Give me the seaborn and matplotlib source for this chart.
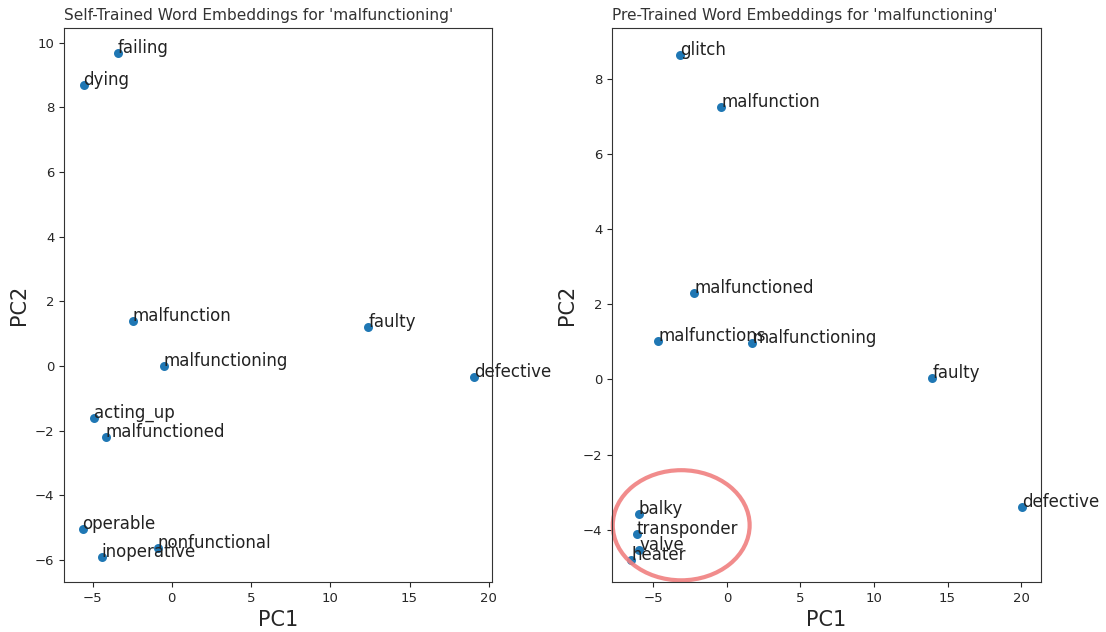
import numpy as np
import pandas as pd
import matplotlib
matplotlib.use("Agg")
import matplotlib.pyplot as plt
from matplotlib.patches import Ellipse
import seaborn as sns

# kendi eğittiğimiz gömmeler (PCA sonrası)
self_words = ['failing', 'dying', 'malfunction', 'malfunctioning', 'faulty', 'defective',
              'acting_up', 'malfunctioned', 'operable', 'nonfunctional', 'inoperative']
self_pc1 = [-3.42, -5.57, -2.47, -0.50, 12.40, 19.05, -4.94, -4.18, -5.63, -0.89, -4.43]
self_pc2 = [9.69, 8.70, 1.39, 0.00, 1.21, -0.34, -1.61, -2.20, -5.05, -5.63, -5.91]

# hazır (pre-trained) gömmeler
pre_words = ['glitch', 'malfunction', 'malfunctioned', 'malfunctions', 'malfunctioning',
             'faulty', 'defective', 'balky', 'transponder', 'valve', 'heater']
pre_pc1 = [-3.17, -0.39, -2.22, -4.67, 1.72, 13.97, 20.04, -6.00, -6.11, -5.96, -6.48]
pre_pc2 = [8.62, 7.26, 2.31, 1.01, 0.98, 0.05, -3.40, -3.59, -4.10, -4.55, -4.81]

sns.set_style("ticks")
plt.rcParams['font.family'] = ['DejaVu Sans']

fig = plt.figure(figsize=(11.06, 6.32), dpi=100)
ax1 = fig.add_axes([0.0579, 0.0791, 0.3869, 0.8766])
ax2 = fig.add_axes([0.5534, 0.0791, 0.3878, 0.8766])

panels = [
    (ax1, self_words, self_pc1, self_pc2, "Self-Trained Word Embeddings for 'malfunctioning'"),
    (ax2, pre_words, pre_pc1, pre_pc2, "Pre-Trained Word Embeddings for 'malfunctioning'"),
]

for ax, kelimeler, xs, ys, baslik in panels:
    df = pd.DataFrame({'PC1': xs, 'PC2': ys, 'word': kelimeler})
    sns.scatterplot(data=df, x='PC1', y='PC2', color='#1f77b4', s=42, linewidth=0, ax=ax)
    for _, r in df.iterrows():
        ax.annotate(r['word'], (r['PC1'], r['PC2']), fontsize=12, color='#222222')
    ax.set_title(baslik, fontsize=11.1, color='#333333', loc='left')
    ax.set_xlabel('PC1', fontsize=15)
    ax.set_ylabel('PC2', fontsize=15)
    ax.tick_params(labelsize=9.5, length=3.5)
    for sp in ax.spines.values():
        sp.set_visible(True)
        sp.set_color('#333333')

ax1.set_xlim(-6.8, 20.2)
ax1.set_ylim(-6.69, 10.46)
ax1.set_yticks([-6, -4, -2, 0, 2, 4, 6, 8, 10])
ax2.set_xlim(-7.8, 21.35)
ax2.set_ylim(-5.39, 9.35)
ax2.set_xticks([-5, 0, 5, 10, 15, 20])

# kırmızı çember - alttaki küme
ax2.add_patch(Ellipse((-3.1, -3.88), 9.3, 2.93, fill=False, edgecolor='#f08080',
                      linewidth=3, alpha=0.9, clip_on=False))

fig.savefig('out.png', dpi=100)
